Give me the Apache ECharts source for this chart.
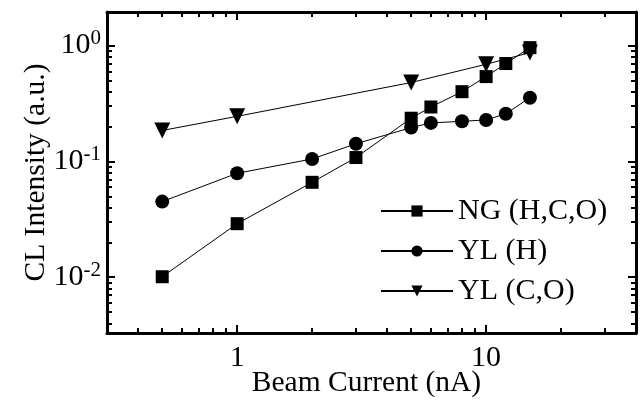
<!DOCTYPE html>
<html>
<head>
<meta charset="utf-8">
<script src="https://cdn.jsdelivr.net/npm/echarts@6/dist/echarts.min.js"></script>
<style>
  html, body { margin: 0; padding: 0; background: #fff; }
  #chart { width: 640px; height: 401px; }
</style>
</head>
<body>
<div id="chart"></div>
<script>
// beam current (nA) and CL intensity (a.u.)
const ngCurrent = [0.5, 1, 2, 3, 5, 6, 8, 10, 12, 15];
const ngIntensity = [0.0101, 0.029, 0.066, 0.108, 0.236, 0.295, 0.40, 0.54, 0.70, 0.96];

const ylhCurrent = [0.5, 1, 2, 3, 5, 6, 8, 10, 12, 15];
const ylhIntensity = [0.045, 0.079, 0.105, 0.142, 0.196, 0.215, 0.222, 0.228, 0.258, 0.355];

const ylcoCurrent = [0.5, 1, 5, 10, 15];
const ylcoIntensity = [0.185, 0.245, 0.48, 0.69, 0.87];

const seriesNames = ['NG (H,C,O)', 'YL (H)', 'YL (C,O)'];

// tick values
const xMajor = [1, 10];
const xMinor = [0.4, 0.5, 0.6, 0.7, 0.8, 0.9, 2, 3, 4, 5, 6, 7, 8, 9, 20, 30];
const yMajor = [0.01, 0.1, 1];
const yMinor = [0.004, 0.005, 0.006, 0.007, 0.008, 0.009,
                0.02, 0.03, 0.04, 0.05, 0.06, 0.07, 0.08, 0.09,
                0.2, 0.3, 0.4, 0.5, 0.6, 0.7, 0.8, 0.9];

const font = '"Liberation Serif", "DejaVu Serif", serif';
const xMin = 0.3, xMax = 40, yMin = 0.0033, yMax = 1.95;

function pairs(xs, ys) {
    return xs.map((x, i) => [x, ys[i]]);
}

function xAxisOf(position, ticks, len, showLine, showLabel) {
    return {
        type: 'log', logBase: 10, position: position, min: xMin, max: xMax,
        axisLine: { show: showLine, onZero: false, lineStyle: { color: '#000', width: 3 } },
        axisTick: { show: true, inside: true, length: len, customValues: ticks,
                    lineStyle: { color: '#000', width: 2 } },
        axisLabel: { show: showLabel, customValues: ticks, margin: 10,
                     color: '#000', fontFamily: font, fontSize: 30 },
        splitLine: { show: false }
    };
}

function yAxisOf(position, ticks, len, showLine, showLabel) {
    return {
        type: 'log', logBase: 10, position: position, min: yMin, max: yMax,
        axisLine: { show: showLine, onZero: false, lineStyle: { color: '#000', width: 3 } },
        axisTick: { show: true, inside: true, length: len, customValues: ticks,
                    lineStyle: { color: '#000', width: 2 } },
        axisLabel: {
            show: showLabel, customValues: ticks, margin: 6,
            formatter: (v) => '{b|10}{s|' + Math.round(Math.log10(v)) + '}',
            rich: {
                b: { color: '#000', fontFamily: font, fontSize: 30 },
                s: { color: '#000', fontFamily: font, fontSize: 21, verticalAlign: 'top', padding: [0, 0, 14, 0] }
            }
        },
        splitLine: { show: false }
    };
}

const chart = echarts.init(document.getElementById('chart'));

const xAxes = [
    xAxisOf('bottom', xMajor, 8, true, true),
    xAxisOf('bottom', xMinor, 5, false, false),
    xAxisOf('top', xMajor, 8, true, false),
    xAxisOf('top', xMinor, 5, false, false)
];
xAxes[0].name = 'Beam Current (nA)';
xAxes[0].nameLocation = 'middle';
xAxes[0].nameMoveOverlap = false;
xAxes[0].nameGap = 35;
xAxes[0].nameTextStyle = { color: '#000', fontFamily: font, fontSize: 29.5, padding: [0, 10, 0, 0] };

const yAxes = [
    yAxisOf('left', yMajor, 8, true, true),
    yAxisOf('left', yMinor, 5, false, false),
    yAxisOf('right', yMajor, 8, true, false),
    yAxisOf('right', yMinor, 5, false, false)
];
yAxes[0].name = 'CL Intensity (a.u.)';
yAxes[0].nameLocation = 'middle';
yAxes[0].nameMoveOverlap = false;
yAxes[0].nameGap = 56;
yAxes[0].nameTextStyle = { color: '#000', fontFamily: font, fontSize: 29.5 };

const lineSeries = (name, data, symbol, size, rotate) => ({
    name: name,
    type: 'line',
    xAxisIndex: 0,
    yAxisIndex: 0,
    data: data,
    symbol: symbol,
    symbolSize: size,
    symbolRotate: rotate,
    showAllSymbol: true,
    lineStyle: { color: '#000', width: 1 },
    itemStyle: { color: '#000' },
    animation: false
});

chart.setOption({
    animation: false,
    grid: { left: 107, right: 4, top: 12, bottom: 68, containLabel: false, outerBoundsMode: 'none' },
    xAxis: xAxes,
    yAxis: yAxes,
    legend: {
        orient: 'vertical',
        left: 375,
        top: 191,
        itemWidth: 72,
        itemHeight: 14,
        itemGap: 10,
        data: seriesNames,
        textStyle: { color: '#000', fontFamily: font, fontSize: 30 }
    },
    series: [
        lineSeries(seriesNames[0], pairs(ngCurrent, ngIntensity), 'rect', 13, 0),
        lineSeries(seriesNames[1], pairs(ylhCurrent, ylhIntensity), 'circle', 14, 0),
        lineSeries(seriesNames[2], pairs(ylcoCurrent, ylcoIntensity), 'triangle', 16, 180)
    ]
});
</script>
</body>
</html>
